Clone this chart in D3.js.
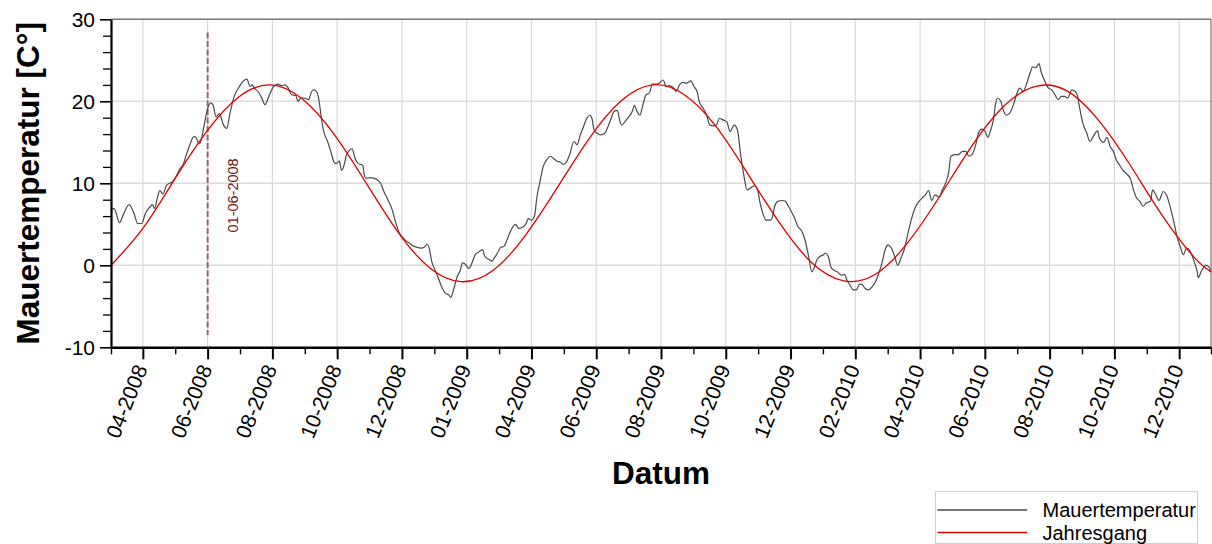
<!DOCTYPE html>
<html>
<head>
<meta charset="utf-8">
<script src="https://cdn.jsdelivr.net/npm/d3@7"></script>
<style>
  html, body { margin: 0; padding: 0; background: #fff; }
  svg { display: block; font-family: "Liberation Sans", Arial, sans-serif; }
</style>
</head>
<body>
<svg id="chart" width="1212" height="544"></svg>
<script>
// Measurement series: days since seriesStart and wall temperature in °C
const seriesStart = "2008-03-02";
const seriesEnd = "2011-01-02";

const mauerDay = [
  0, 3, 8, 12, 17, 22, 25, 29, 32, 36, 39, 41, 44, 46, 49, 52, 55, 58, 62, 65,
  68, 71, 74, 78, 80, 83, 85, 88, 91, 94, 96, 99, 102, 106, 109, 112, 116, 120, 124, 128,
  131, 133, 135, 139, 142, 145, 149, 153, 157, 161, 164, 167, 170, 174, 176, 179, 182, 186, 189, 191,
  194, 196, 198, 200, 204, 207, 210, 212, 215, 217, 219, 222, 227, 230, 233, 237, 239, 241, 244, 248,
  251, 254, 257, 260, 265, 268, 271, 274, 277, 281, 284, 288, 292, 295, 298, 300, 302, 306, 309, 312,
  315, 318, 320, 323, 326, 329, 331, 334, 337, 340, 343, 346, 350, 352, 356, 359, 361, 364, 367, 370,
  373, 376, 381, 384, 388, 391, 393, 396, 399, 401, 404, 407, 410, 414, 417, 420, 423, 426, 429, 432,
  436, 439, 442, 445, 448, 451, 453, 455, 458, 461, 465, 468, 471, 474, 477, 479, 481, 484, 487, 491,
  493, 495, 498, 501, 504, 507, 510, 514, 517, 520, 523, 526, 530, 532, 536, 539, 542, 546, 549, 552,
  554, 558, 561, 564, 567, 570, 573, 577, 580, 583, 587, 590, 593, 596, 599, 603, 606, 609, 611, 614,
  617, 621, 623, 625, 628, 632, 635, 638, 641, 644, 647, 650, 654, 657, 660, 662, 665, 668, 671, 673,
  676, 678, 681, 684, 688, 691, 693, 696, 699, 702, 705, 708, 710, 713, 717, 720, 723, 726, 729, 732,
  735, 738, 741, 744, 747, 751, 754, 758, 761, 764, 767, 770, 773, 776, 780, 783, 786, 789, 791, 795,
  798, 802, 805, 808, 811, 814, 817, 820, 823, 826, 828, 831, 833, 835, 838, 840, 843, 846, 850, 853,
  856, 859, 862, 865, 868, 871, 874, 876, 879, 883, 886, 889, 892, 895, 898, 901, 905, 908, 910, 912,
  915, 919, 922, 925, 929, 931, 935, 938, 941, 944, 947, 950, 953, 957, 960, 963, 966, 969, 972, 975,
  979, 981, 984, 987, 991, 994, 997, 1001, 1004, 1007, 1010, 1013, 1016, 1019, 1023, 1024, 1027, 1031, 1034, 1036
];

const mauerTemp = [
  6.8, 6.9, 5.2, 6.3, 7.4, 6.2, 5.1, 5.1, 6.2, 7.0, 7.4, 6.9, 8.4, 9.1, 8.7, 9.7, 10.0, 10.2, 11.0, 11.8,
  12.3, 13.5, 14.6, 15.7, 15.6, 14.8, 15.3, 17.3, 19.1, 19.8, 19.6, 18.1, 18.5, 17.1, 16.7, 18.5, 20.6, 21.6, 22.4, 22.7,
  21.8, 22.0, 21.6, 21.1, 20.4, 19.6, 20.7, 21.8, 22.1, 21.9, 22.0, 21.6, 20.8, 20.7, 20.0, 20.4, 20.4, 20.2, 21.2, 21.4,
  21.1, 20.0, 18.1, 16.5, 15.1, 13.9, 12.6, 12.4, 12.7, 11.6, 12.0, 13.5, 14.2, 13.0, 12.4, 12.2, 10.8, 10.6, 10.7, 10.6,
  10.4, 10.0, 9.0, 8.2, 6.7, 5.3, 4.1, 3.5, 3.1, 2.7, 2.4, 2.2, 2.1, 2.2, 2.6, 1.9, 0.5, -0.8, -1.8, -2.8,
  -3.4, -3.6, -3.9, -2.8, -1.4, -0.6, 0.3, 0.1, -0.4, 0.3, 1.3, 1.6, 1.9, 1.1, 0.7, 0.5, 0.9, 1.5, 2.2, 2.3,
  3.1, 4.1, 5.0, 4.5, 4.7, 5.1, 5.7, 5.5, 6.1, 8.2, 10.2, 12.0, 12.8, 13.3, 13.0, 12.7, 12.6, 12.3, 12.6, 13.5,
  15.1, 14.7, 15.9, 16.9, 17.9, 18.3, 17.9, 16.5, 16.1, 15.9, 16.1, 16.9, 17.9, 18.8, 18.9, 17.7, 17.1, 17.5, 18.0, 18.8,
  19.5, 18.9, 18.3, 19.6, 20.8, 21.0, 22.1, 22.1, 22.3, 22.6, 21.8, 21.9, 21.6, 21.2, 22.1, 22.3, 22.2, 22.5, 21.8, 21.2,
  20.0, 19.1, 18.3, 17.1, 17.0, 17.1, 17.9, 17.7, 17.5, 16.3, 17.1, 16.5, 13.5, 11.0, 9.2, 9.5, 9.7, 9.2, 7.8, 6.3,
  5.5, 5.5, 5.9, 7.2, 7.8, 7.9, 7.8, 7.2, 6.5, 5.7, 4.7, 4.3, 2.9, 1.1, -0.8, -0.4, 0.7, 1.1, 1.3, 1.5,
  0.9, -0.2, -0.6, -0.8, -1.2, -1.1, -1.8, -2.4, -3.0, -3.0, -2.3, -2.4, -2.8, -3.0, -2.6, -2.0, -1.0, 0.2, 1.9, 2.5,
  2.1, 1.1, 0.0, 0.9, 1.9, 4.1, 5.7, 7.2, 7.8, 8.2, 8.6, 9.1, 7.9, 8.6, 8.3, 9.2, 10.0, 11.4, 13.3, 13.5,
  13.5, 13.9, 13.9, 13.3, 13.5, 14.5, 16.1, 16.6, 16.4, 15.6, 16.3, 17.7, 19.6, 20.4, 20.0, 19.1, 18.3, 18.5, 19.6, 20.9,
  21.6, 21.2, 22.0, 23.2, 24.2, 24.1, 24.6, 23.6, 22.6, 21.6, 21.4, 20.8, 20.2, 20.6, 20.6, 20.4, 21.4, 21.2, 20.8, 19.4,
  17.5, 16.1, 15.1, 15.7, 16.4, 15.5, 15.0, 15.6, 14.5, 13.9, 12.8, 12.2, 11.6, 11.1, 10.6, 9.2, 8.2, 7.8, 7.2, 7.6,
  7.8, 9.2, 8.6, 7.9, 9.0, 8.6, 7.4, 5.3, 3.5, 2.3, 1.3, 2.1, 1.8, 0.9, -0.8, -1.5, -0.7, 0.0, -0.2, -0.8
];

// Annual cycle (Jahresgang), sampled every 30 days since seriesStart
const jahresDay = [
  0, 30, 60, 90, 120, 150, 180, 210, 240, 270, 300, 330, 360, 390, 420, 450, 480, 510,
  540, 570, 600, 630, 660, 690, 720, 750, 780, 810, 840, 870, 900, 930, 960, 990, 1020, 1036
];
const jahresTemp = [
  0.0, 4.5, 10.5, 16.3, 20.5, 22.0, 20.3, 16.0, 10.1, 4.1, -0.3, -2.0, -0.6, 3.6, 9.4, 15.4, 20.0, 22.0,
  20.8, 16.9, 11.1, 5.1, 0.3, -1.9, -1.1, 2.7, 8.3, 14.4, 19.3, 21.8, 21.3, 17.7, 12.2, 6.1, 1.0, -0.8
];

// Axis ticks
const xTickDates = [
  "2008-04-01", "2008-06-01", "2008-08-01", "2008-10-01", "2008-12-01", "2009-01-31",
  "2009-04-02", "2009-06-02", "2009-08-02", "2009-10-02", "2009-12-02", "2010-02-01",
  "2010-04-03", "2010-06-03", "2010-08-03", "2010-10-03", "2010-12-03"
];
const yTicks = [-10, 0, 10, 20, 30];
const yMinorTicks = [-8, -6, -4, -2, 2, 4, 6, 8, 12, 14, 16, 18, 22, 24, 26, 28];
const yGrid = [0, 10, 20];

// Event marker
const markerDate = "2008-06-01";
const markerLabel = "01-06-2008";

const seriesNames = ["Mauertemperatur", "Jahresgang"];

// ---------------------------------------------------------------
const parse = d3.utcParse("%Y-%m-%d");
const fmt = d3.utcFormat("%m-%Y");
const t0 = parse(seriesStart);
const t1 = parse(seriesEnd);
const dayToDate = d => d3.utcDay.offset(t0, d);

const mauer = mauerDay.map((d, i) => ({ date: dayToDate(d), value: mauerTemp[i] }));
const jahres = jahresDay.map((d, i) => ({ date: dayToDate(d), value: jahresTemp[i] }));

const margin = { left: 111, right: 1, top: 19.3, bottom: 196.7 };
const W = 1212, H = 544;

const x = d3.scaleUtc().domain([t0, t1]).range([margin.left, W - margin.right]);
const y = d3.scaleLinear().domain([-10, 30]).range([H - margin.bottom, margin.top]);

const svg = d3.select("#chart");

const majorDates = xTickDates.map(parse);
const minorDates = [t0];
for (let i = 0; i < majorDates.length - 1; i++) {
  minorDates.push(new Date((+majorDates[i] + +majorDates[i + 1]) / 2));
}
minorDates.push(t1);

// Grid
const grid = svg.append("g").attr("class", "grid");
grid.selectAll("line.v").data(majorDates).join("line")
  .attr("x1", d => x(d)).attr("x2", d => x(d))
  .attr("y1", y(30)).attr("y2", y(-10))
  .attr("stroke", "#d9d9d9").attr("stroke-width", 1.2);
grid.selectAll("line.h").data(yGrid).join("line")
  .attr("x1", x(t0)).attr("x2", x(t1))
  .attr("y1", d => y(d)).attr("y2", d => y(d))
  .attr("stroke", "#dcdcdc").attr("stroke-width", 1.4);

// Frame (top and right)
svg.append("line")
  .attr("x1", x(t0)).attr("x2", x(t1)).attr("y1", y(30)).attr("y2", y(30))
  .attr("stroke", "#777").attr("stroke-width", 1.4);
svg.append("line")
  .attr("x1", x(t1)).attr("x2", x(t1)).attr("y1", y(30)).attr("y2", y(-10))
  .attr("stroke", "#777").attr("stroke-width", 1.2);

// Marker line
svg.append("line")
  .attr("x1", x(parse(markerDate))).attr("x2", x(parse(markerDate)))
  .attr("y1", y(28.4)).attr("y2", y(-8.5))
  .attr("stroke", "#9a6464").attr("stroke-width", 2)
  .attr("stroke-dasharray", "6,2.5");
svg.append("text")
  .attr("transform", `translate(${x(parse(markerDate)) + 30},${y(4)}) rotate(-90)`)
  .attr("text-anchor", "start")
  .attr("font-size", 14.5)
  .attr("fill", "#6e1616")
  .text(markerLabel);

// Series
const line = d3.line().x(d => x(d.date)).y(d => y(d.value));
svg.append("path").datum(mauer)
  .attr("d", line.curve(d3.curveMonotoneX))
  .attr("fill", "none").attr("stroke", "#4a4a4a").attr("stroke-width", 1.2);
svg.append("path").datum(jahres)
  .attr("d", d3.line().x(d => x(d.date)).y(d => y(d.value)).curve(d3.curveNatural))
  .attr("fill", "none").attr("stroke", "#e00000").attr("stroke-width", 1.3);

// Y axis (plain hyphen for negative numbers)
const yAxis = svg.append("g").attr("transform", `translate(${x(t0)},0)`)
  .call(d3.axisLeft(y).tickValues(yTicks).tickSize(11).tickSizeOuter(0).tickPadding(5)
    .tickFormat(d => String(d)));
yAxis.select(".domain").attr("stroke", "#000").attr("stroke-width", 2.2);
yAxis.selectAll(".tick line").attr("stroke", "#000").attr("stroke-width", 1.6);
yAxis.selectAll(".tick text").attr("font-size", 21).attr("fill", "#000")
  .attr("font-family", "'Liberation Sans', Arial, sans-serif");
svg.append("g").attr("transform", `translate(${x(t0)},0)`)
  .call(d3.axisLeft(y).tickValues(yMinorTicks).tickSize(8).tickFormat(""))
  .call(g => g.select(".domain").remove())
  .selectAll(".tick line").attr("stroke", "#000").attr("stroke-width", 1.3);

// X axis
const xAxis = svg.append("g").attr("transform", `translate(0,${y(-10)})`)
  .call(d3.axisBottom(x).tickValues(majorDates).tickSize(12).tickSizeOuter(0).tickFormat(""));
xAxis.select(".domain").attr("stroke", "#000").attr("stroke-width", 2.6);
xAxis.selectAll(".tick line").attr("stroke", "#000").attr("stroke-width", 2);
svg.append("g").attr("transform", `translate(0,${y(-10)})`)
  .call(d3.axisBottom(x).tickValues(minorDates).tickSize(7).tickFormat(""))
  .call(g => g.select(".domain").remove())
  .selectAll(".tick line").attr("stroke", "#000").attr("stroke-width", 1.4);

svg.append("g").selectAll("text").data(majorDates).join("text")
  .attr("transform", d => `translate(${x(d) + 5},${y(-10) + 21}) rotate(-68)`)
  .attr("text-anchor", "end")
  .attr("font-size", 21)
  .attr("fill", "#000")
  .text(d => fmt(d));

// Axis titles
svg.append("text")
  .attr("transform", `translate(38.5,${(y(30) + y(-10)) / 2}) rotate(-90)`)
  .attr("text-anchor", "middle")
  .attr("font-size", 31.5).attr("font-weight", "bold")
  .text("Mauertemperatur [C°]");
svg.append("text")
  .attr("x", (x(t0) + x(t1)) / 2).attr("y", 483.5)
  .attr("text-anchor", "middle")
  .attr("font-size", 31.5).attr("font-weight", "bold")
  .text("Datum");

// Legend
const legend = svg.append("g").attr("transform", "translate(935,491)");
legend.append("rect")
  .attr("x", 0.5).attr("y", 0.5).attr("width", 262).attr("height", 52)
  .attr("fill", "#fff").attr("stroke", "#cfcfcf").attr("stroke-width", 1);
const legendColors = ["#4a4a4a", "#e00000"];
seriesNames.forEach((name, i) => {
  const ly = 19 + i * 22.5;
  legend.append("line")
    .attr("x1", 2.5).attr("x2", 92).attr("y1", ly).attr("y2", ly)
    .attr("stroke", legendColors[i]).attr("stroke-width", 1.3);
  legend.append("text")
    .attr("x", 107.5).attr("y", ly + 7)
    .attr("font-size", 20).attr("fill", "#000")
    .text(name);
});
</script>
</body>
</html>
